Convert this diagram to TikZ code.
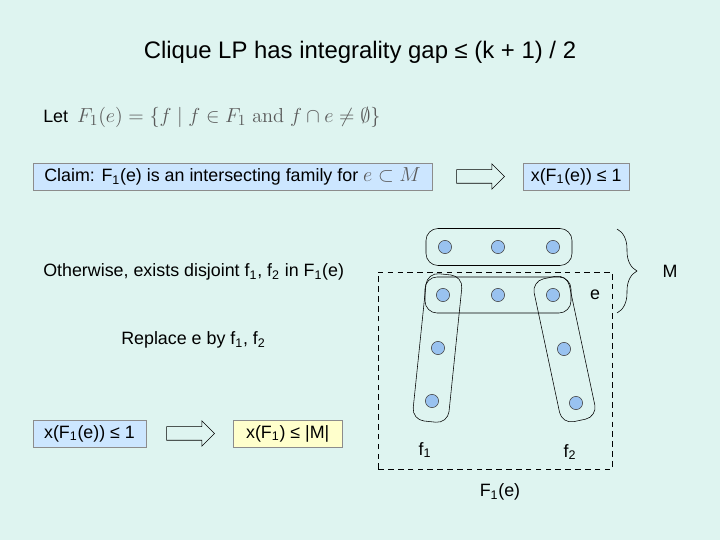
\documentclass[tikz,border=0pt]{standalone}
\usepackage[no-math]{fontspec}
\setmainfont{Liberation Sans}
\usetikzlibrary{positioning}
\usetikzlibrary{shapes.arrows, decorations.pathreplacing, calc}

\definecolor{slidebg}{RGB}{222,244,240}
\definecolor{claimblue}{RGB}{204,230,255}
\definecolor{boundyellow}{RGB}{255,255,204}
\definecolor{boxgray}{RGB}{140,140,140}
\definecolor{dotblue}{RGB}{153,194,240}
\newcommand{\grmath}[1]{{\fontsize{15}{18}\selectfont\textcolor{black!65}{$#1$}}}

\begin{document}
\begin{tikzpicture}[font=\fontsize{12.7}{15}\selectfont,
  vertex/.style={circle,draw=black!75,fill=dotblue,minimum size=0.33cm,inner sep=0pt,thin},
  hedge/.style={draw,rounded corners=0.3cm,thin,inner sep=0pt},
  infobox/.style={draw=boxgray,minimum height=0.675cm,inner sep=0pt},
  bigarrow/.style={single arrow,draw,thin,inner xsep=0pt,inner ysep=0.1625cm,
    single arrow head extend=0.15cm,minimum height=1.2cm}]
\fill[slidebg] (0,0) rectangle (18,13.5);

\node[font=\fontsize{17}{20}\selectfont] (title) at (9,12.2) {Clique LP has integrality gap ≤ (k + 1) / 2};
\node[anchor=west,inner sep=0pt] (let) at (1.075,10.575) {Let\enspace\grmath{F_1(e) = \{f \mid f \in F_1 \ \mathrm{and}\ f \cap e \neq \emptyset\}}};

% claim and its consequence
\node[infobox,fill=claimblue,minimum width=9.975cm] (claim) at (5.8125,9.0875) {Claim: F\textsubscript{1}(e) is an intersecting family for \grmath{e \subset M}};
\node[bigarrow,right=0.6cm of claim] (arr1) {};
\node[infobox,fill=claimblue,minimum width=2.65cm,right=0.45cm of arr1] (bound1) {x(F\textsubscript{1}(e)) ≤ 1};

\node[anchor=west,inner sep=0pt] (otherwise) at (1.075,6.7) {Otherwise, exists disjoint f\textsubscript{1}, f\textsubscript{2} in F\textsubscript{1}(e)};
\node[anchor=west,inner sep=0pt] (replace) at (3.025,5.0) {Replace e by f\textsubscript{1}, f\textsubscript{2}};

% summing up
\node[infobox,fill=claimblue,minimum width=2.825cm] (bound2) at (2.2375,2.6625) {x(F\textsubscript{1}(e)) ≤ 1};
\node[bigarrow,right=0.5cm of bound2] (arr2) {};
\node[infobox,fill=boundyellow,minimum width=2.725cm,right=0.45cm of arr2] (bound3) {x(F\textsubscript{1}) ≤ |M|};

% matching M
\node[vertex] (m1) at (11.125,7.325) {};
\node[vertex] (m2) at (12.45,7.325) {};
\node[vertex] (m3) at (13.825,7.325) {};
\node[vertex] (e1) at (11.075,6.125) {};
\node[vertex] (e2) at (12.45,6.125) {};
\node[vertex] (e3) at (13.825,6.125) {};
\node[vertex] (a2) at (10.95,4.8) {};
\node[vertex] (a3) at (10.8,3.475) {};
\node[vertex] (b2) at (14.1,4.775) {};
\node[vertex] (b3) at (14.4,3.425) {};

\node[hedge,minimum width=3.65cm,minimum height=0.925cm] (medge) at ($(m1)!0.5!(m3)$) {};
\node[hedge,minimum width=3.65cm,minimum height=0.9cm] (eedge) at ($(e1)!0.5!(e3)$) {};
\node[hedge,minimum width=0.9cm,minimum height=3.7cm,rotate=-5.9] (f1edge) at ($(e1)!0.5!(a3)$) {};
\node[hedge,minimum width=0.9cm,minimum height=3.65cm,rotate=12] (f2edge) at ($(e3)!0.5!(b3)$) {};

\node (elabel) at (14.875,6.125) {e};
\node (f1label) at (10.625,2.25) {f\textsubscript{1}};
\node (f2label) at (14.25,2.2) {f\textsubscript{2}};

\draw[dashed,dash pattern=on 4pt off 3pt,thin] (9.45,1.775) rectangle (15.3,6.7);
\node (fam) at (12.5,1.2) {F\textsubscript{1}(e)};

\coordinate (brtop) at (15.425,7.775);
\coordinate (brbot) at (15.425,5.675);
\draw[thin,decorate,decoration={brace,amplitude=0.5cm}] (brtop) -- (brbot);
\node (mlabel) at (16.75,6.725) {M};

\end{tikzpicture}
\end{document}
